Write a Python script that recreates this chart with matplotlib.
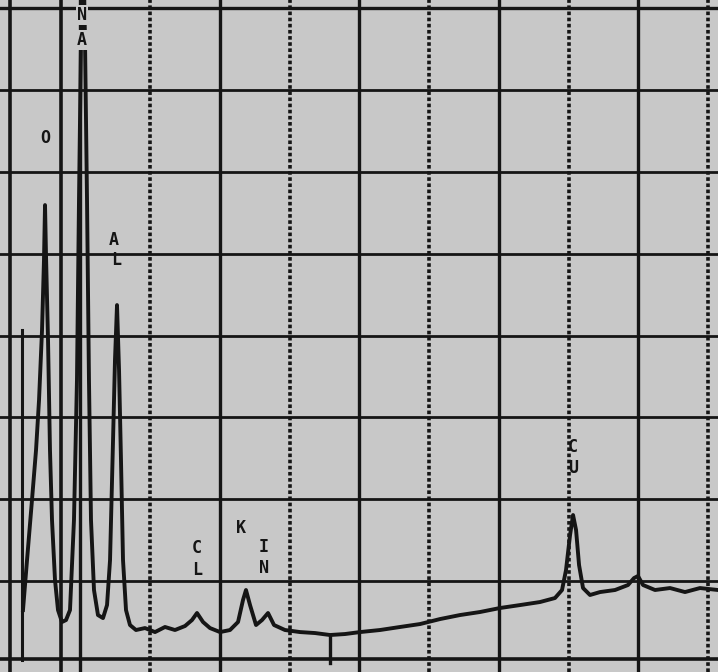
import matplotlib
matplotlib.use("Agg")
import matplotlib.pyplot as plt

# --- data (energy keV, counts in grid units) ---
energy = [0.179, 0.237, 0.308, 0.366, 0.409, 0.452, 0.480, 0.495, 0.509, 0.538,
          0.566, 0.595, 0.638, 0.681, 0.738, 0.796,
          0.853, 0.910, 0.953, 0.982, 1.011, 1.039, 1.068, 1.097, 1.125, 1.154,
          1.197, 1.254, 1.326,
          1.384, 1.427, 1.470, 1.498, 1.527, 1.556, 1.584, 1.613, 1.656, 1.713, 1.799,
          1.928, 2.072, 2.215, 2.358, 2.502, 2.602, 2.674, 2.760, 2.860, 3.004,
          3.147, 3.262, 3.333, 3.376, 3.434, 3.520, 3.606, 3.692, 3.778, 3.935,
          4.151, 4.366, 4.581, 4.796, 5.011, 5.297, 5.584, 5.871, 6.158, 6.444,
          6.731, 7.018, 7.305, 7.591, 7.806, 7.907, 7.964, 8.022, 8.065, 8.108,
          8.151, 8.208, 8.308, 8.452, 8.667, 8.853, 8.939, 8.996, 9.068, 9.240,
          9.455, 9.670, 9.885, 10.143]
counts = [0.645, 1.256, 1.989, 2.600, 3.211, 4.067, 4.922, 5.594, 4.983, 3.944,
          2.600, 1.745, 1.012, 0.645, 0.499, 0.523,
          0.645, 1.745, 3.456, 5.655, 7.611, 9.000, 7.611, 5.655, 3.456, 1.745,
          0.890, 0.584, 0.547,
          0.706, 1.256, 2.722, 3.700, 4.372, 3.578, 2.478, 1.256, 0.645, 0.462, 0.401,
          0.425, 0.376, 0.438, 0.401, 0.450, 0.523, 0.609, 0.499, 0.425, 0.376,
          0.401, 0.499, 0.767, 0.890, 0.706, 0.462, 0.523, 0.609, 0.462, 0.401,
          0.376, 0.364, 0.340, 0.352, 0.376, 0.401, 0.438, 0.474, 0.535, 0.584,
          0.621, 0.670, 0.706, 0.743, 0.792, 0.890, 1.134, 1.562, 1.806, 1.623,
          1.195, 0.914, 0.829, 0.865, 0.890, 0.951, 1.036, 1.061, 0.951, 0.890,
          0.914, 0.865, 0.914, 0.890]

# element labels (letters stacked vertically)
label_letter = ["O", "N", "A", "A", "L", "C", "L", "K", "I", "N", "C", "U"]
label_x = [0.495, 1.025, 1.025, 1.484, 1.513, 2.674, 2.674, 3.305, 3.634, 3.634, 8.065, 8.065]
label_y = [6.41, 7.915, 7.61, 5.166, 4.922, 1.403, 1.134, 1.647, 1.415, 1.158, 2.637, 2.381]
label_on_trace = [False, True, True, False, False, False, False, False, False, False, False, False]

solid_x = [1, 3, 5, 7, 9]
dotted_x = [2, 4, 6, 8, 10]
grid_y = [1, 2, 3, 4, 5, 6, 7]

ink = "#151515"
bg = "#c8c8c8"

fig = plt.figure(figsize=(7.18, 6.72), dpi=100)
fig.patch.set_facecolor(bg)
ax = fig.add_axes([0, 0, 1, 1])
ax.set_facecolor(bg)
ax.set_xlim(-0.1505, 10.143)
ax.set_ylim(-0.112, 8.10)
for s in ax.spines.values():
    s.set_visible(False)
ax.set_xticks([])
ax.set_yticks([])

# grid
for x in solid_x:
    ax.axvline(x, color=ink, lw=2.4, zorder=1)
for x in dotted_x:
    ax.axvline(x, color=ink, lw=2.6, ls=(0, (1.0, 0.7)), zorder=1)
for y in grid_y:
    ax.axhline(y, color=ink, lw=2.0, zorder=1)

# frame
ax.axvline(-0.014, color=ink, lw=2.6, zorder=1)
ax.axhline(0.046, color=ink, lw=2.6, zorder=1)
ax.axhline(8.0, color=ink, lw=2.4, zorder=1)
# cursor / window marks
ax.axvline(0.724, color=ink, lw=2.6, zorder=1)
ax.plot([0.165, 0.165], [0.03, 4.07], color=ink, lw=2.2, zorder=1)
ax.plot([4.58, 4.58], [-0.003, 0.315], color=ink, lw=2.4, zorder=1)

# spectrum
ax.plot(energy, counts, color=ink, lw=2.8, zorder=3, solid_joinstyle="round")

for t, x, y, on in zip(label_letter, label_x, label_y, label_on_trace):
    kw = {}
    if on:
        kw["bbox"] = dict(boxstyle="square,pad=0.05", fc=bg, ec="none")
    ax.text(x, y, t, ha="center", va="center", fontsize=12, color=ink,
            family="DejaVu Sans Mono", fontweight="bold", zorder=4, **kw)

fig.savefig("out.png", dpi=100, facecolor=bg)
